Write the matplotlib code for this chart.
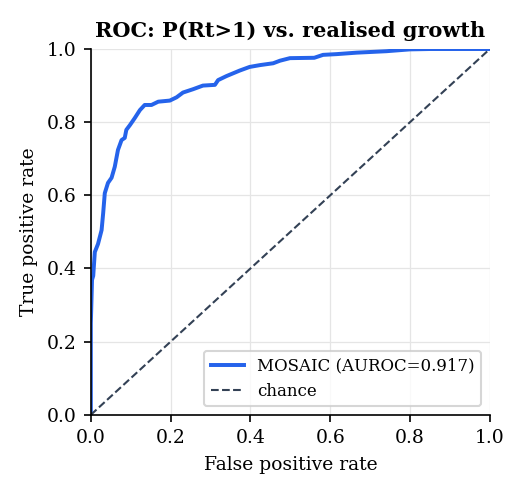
import matplotlib
matplotlib.use("Agg")
import matplotlib.pyplot as plt

# === DATA ===
fpr = [0.0, 0.0, 0.003, 0.006, 0.01, 0.018, 0.027, 0.031, 0.035, 0.043, 0.052,
       0.06, 0.068, 0.077, 0.085, 0.089, 0.098, 0.11, 0.123, 0.135, 0.152,
       0.169, 0.198, 0.215, 0.231, 0.256, 0.281, 0.311, 0.319, 0.34, 0.373,
       0.398, 0.424, 0.457, 0.474, 0.499, 0.56, 0.582, 0.616, 0.666, 0.741,
       0.80, 0.85, 1.0]
tpr = [0.0, 0.25, 0.369, 0.38, 0.445, 0.467, 0.505, 0.552, 0.606, 0.634, 0.648,
       0.678, 0.724, 0.751, 0.757, 0.779, 0.792, 0.811, 0.833, 0.847, 0.847,
       0.856, 0.859, 0.868, 0.881, 0.89, 0.90, 0.902, 0.915, 0.926, 0.941,
       0.951, 0.956, 0.961, 0.968, 0.975, 0.976, 0.984, 0.986, 0.99, 0.994,
       0.999, 1.0, 1.0]
auroc = 0.917
chance = [0.0, 1.0]

plt.rcParams['font.family'] = ['DejaVu Serif']

fig = plt.figure(figsize=(3.5, 3.3), dpi=150)
ax = fig.add_axes([0.173, 0.162, 0.760, 0.739])

ax.plot(fpr, tpr, color='#2563eb', lw=1.9, label=f'MOSAIC (AUROC={auroc:.3f})')
ax.plot(chance, chance, color='#334155', lw=1.0, ls='--', label='chance')

ax.set_xlim(0, 1)
ax.set_ylim(0, 1)
ax.set_xlabel("False positive rate", fontsize=9)
ax.set_ylabel("True positive rate", fontsize=9)
ax.set_title("ROC: P(Rt>1) vs. realised growth", fontsize=10, fontweight='bold')
ax.tick_params(labelsize=9)
ax.grid(True, color='#e5e5e5', lw=0.6)
ax.set_axisbelow(True)
for s in ['top', 'right']:
    ax.spines[s].set_visible(False)
ax.legend(loc='lower right', fontsize=8)

fig.savefig("out.png", dpi=150)
